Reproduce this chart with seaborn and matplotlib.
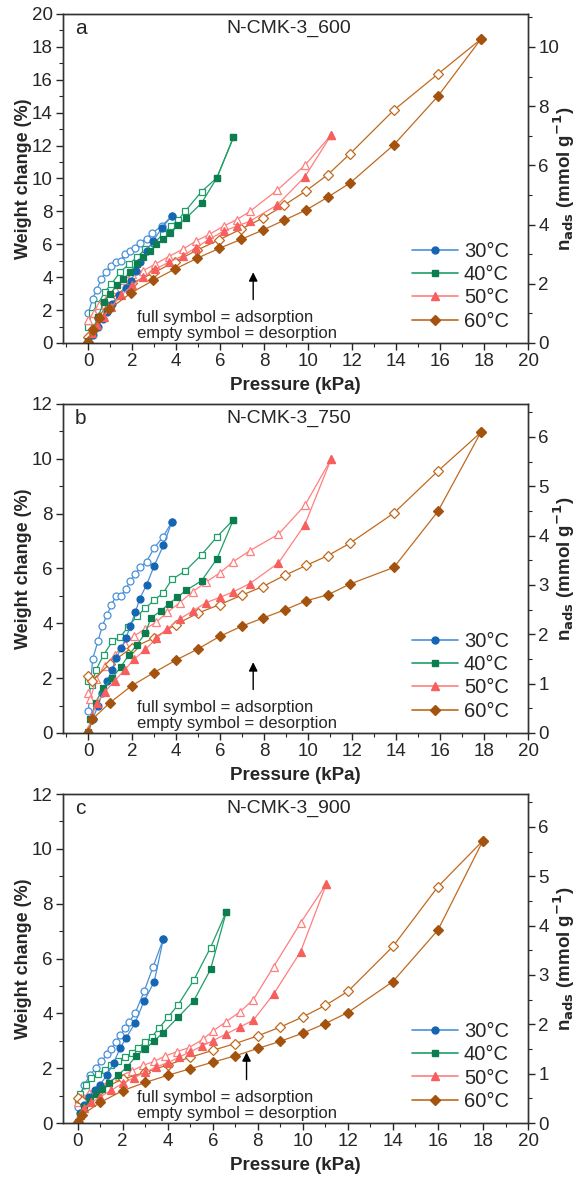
import matplotlib

matplotlib.use("Agg")
import matplotlib.pyplot as plt
import pandas as pd
import seaborn as sns
from matplotlib.ticker import MultipleLocator

# ---- data: (pressure kPa, weight change %) ----
# panel a, N-CMK-3_600
a30_ads_x = [0, 0.22, 0.44, 0.65, 0.87, 1.1, 1.4, 1.7, 1.93, 2.15, 2.35, 2.65, 2.95, 3.35, 3.8]
a30_ads_y = [0.05, 0.5, 1.0, 1.45, 1.9, 2.35, 2.9, 3.35, 3.75, 4.35, 4.95, 5.6, 6.2, 7.0, 7.72]
a30_des_x = [0, 0.2, 0.38, 0.59, 0.8, 1.05, 1.24, 1.47, 1.65, 1.89, 2.12, 2.35, 2.65, 2.92, 3.33, 3.8]
a30_des_y = [1.8, 2.7, 3.2, 3.9, 4.3, 4.7, 4.95, 5.0, 5.4, 5.6, 5.8, 6.1, 6.35, 6.7, 7.1, 7.72]
a40_ads_x = [0, 0.2, 0.45, 0.7, 1.0, 1.3, 1.6, 1.9, 2.2, 2.5, 2.8, 3.1, 3.4, 3.7, 4.1, 4.45, 5.15, 5.85, 6.6]
a40_ads_y = [0.1, 0.8, 1.6, 2.5, 3.0, 3.5, 3.9, 4.3, 4.8, 5.2, 5.6, 6.0, 6.3, 6.7, 7.2, 7.6, 8.5, 10.05, 12.5]
a40_des_x = [0, 0.15, 0.45, 0.75, 1.05, 1.45, 1.85, 2.2, 2.6, 3.0, 3.4, 3.75, 4.1, 4.4, 5.15, 5.85, 6.6]
a40_des_y = [1.0, 1.8, 2.4, 3.1, 3.6, 4.3, 4.8, 5.2, 5.7, 6.1, 6.6, 7.1, 7.5, 8.0, 9.2, 10.05, 12.5]
a50_ads_x = [0, 0.15, 0.4, 0.7, 1.05, 1.5, 2.0, 2.5, 3.05, 3.65, 4.3, 4.9, 5.5, 6.15, 6.75, 7.35, 8.6, 9.85, 11.05]
a50_ads_y = [0.2, 0.6, 1.1, 1.6, 2.2, 2.9, 3.5, 4.0, 4.5, 4.9, 5.3, 5.8, 6.3, 6.8, 7.1, 7.4, 8.4, 10.1, 12.65]
a50_des_x = [0, 0.25, 0.5, 0.8, 1.2, 1.6, 2.0, 2.5, 3.05, 3.65, 4.3, 4.9, 5.5, 6.15, 6.75, 7.35, 8.6, 9.85, 11.05]
a50_des_y = [1.4, 1.8, 2.3, 2.7, 3.3, 3.8, 4.2, 4.4, 4.8, 5.25, 5.7, 6.2, 6.6, 7.1, 7.5, 8.0, 9.3, 10.8, 12.65]
a60_ads_x = [0, 0.2, 0.5, 0.95, 1.95, 2.95, 3.95, 4.95, 5.95, 6.95, 7.95, 8.9, 9.9, 10.9, 11.9, 13.9, 15.9, 17.85]
a60_ads_y = [0.05, 0.8, 1.5, 2.05, 3.05, 3.8, 4.5, 5.15, 5.75, 6.3, 6.87, 7.46, 8.08, 8.87, 9.72, 12.05, 15.0, 18.46]
a60_des_x = [0, 0.2, 0.5, 1.0, 2.0, 2.95, 3.95, 4.95, 5.95, 6.95, 7.95, 8.9, 9.9, 10.9, 11.9, 13.9, 15.9, 17.85]
a60_des_y = [0.35, 0.85, 1.6, 2.65, 3.65, 4.25, 4.95, 5.65, 6.27, 6.93, 7.6, 8.37, 9.24, 10.24, 11.5, 14.16, 16.35, 18.46]

# panel b, N-CMK-3_750
b30_ads_x = [0, 0.2, 0.44, 0.64, 0.87, 1.07, 1.28, 1.5, 1.71, 1.91, 2.14, 2.34, 2.65, 3.0, 3.42, 3.8]
b30_ads_y = [0.05, 0.5, 1.0, 1.45, 1.9, 2.3, 2.75, 3.1, 3.45, 3.9, 4.4, 4.9, 5.4, 6.1, 6.85, 7.7]
b30_des_x = [0, 0.2, 0.44, 0.64, 0.84, 1.05, 1.25, 1.48, 1.71, 1.91, 2.14, 2.37, 2.65, 3.0, 3.4, 3.8]
b30_des_y = [0.8, 2.7, 3.35, 3.9, 4.3, 4.65, 5.0, 5.0, 5.25, 5.55, 5.8, 6.05, 6.25, 6.75, 7.15, 7.7]
b40_ads_x = [0, 0.1, 0.33, 0.68, 1.09, 1.47, 1.85, 2.2, 2.6, 2.85, 3.3, 3.65, 4.05, 4.45, 5.15, 5.85, 6.6]
b40_ads_y = [0.05, 0.5, 1.1, 1.65, 2.0, 2.4, 2.85, 3.2, 3.65, 4.2, 4.45, 4.7, 4.95, 5.2, 5.55, 6.35, 7.78]
b40_des_x = [0, 0.15, 0.35, 0.7, 1.1, 1.45, 1.8, 2.2, 2.6, 3.0, 3.4, 3.8, 4.4, 5.15, 5.85, 6.6]
b40_des_y = [1.9, 1.75, 2.3, 2.85, 3.35, 3.5, 3.85, 4.25, 4.55, 4.85, 5.1, 5.6, 5.9, 6.5, 7.15, 7.78]
b50_ads_x = [0, 0.15, 0.4, 0.75, 1.2, 1.65, 2.1, 2.6, 3.1, 3.6, 4.15, 4.75, 5.35, 6.0, 6.6, 7.35, 8.65, 9.85, 11.05]
b50_ads_y = [0.1, 0.6, 1.1, 1.5, 1.9, 2.3, 2.7, 3.05, 3.45, 3.8, 4.15, 4.45, 4.75, 4.95, 5.15, 5.45, 6.2, 7.6, 10.0]
b50_des_x = [0, 0.1, 0.35, 0.75, 1.2, 1.65, 2.1, 2.6, 3.1, 3.6, 4.15, 4.75, 5.35, 6.0, 6.6, 7.35, 8.65, 9.85, 11.05]
b50_des_y = [1.45, 1.25, 1.95, 2.45, 2.85, 3.25, 3.55, 3.8, 4.05, 4.4, 4.75, 5.15, 5.5, 5.85, 6.25, 6.65, 7.25, 8.3, 10.0]
b60_ads_x = [0, 0.18, 0.98, 1.97, 2.98, 3.97, 4.98, 5.97, 6.97, 7.94, 8.94, 9.91, 10.9, 11.9, 13.9, 15.9, 17.85]
b60_ads_y = [0.0, 0.5, 1.1, 1.72, 2.2, 2.65, 3.06, 3.52, 3.89, 4.19, 4.49, 4.82, 5.04, 5.43, 6.04, 8.08, 10.96]
b60_des_x = [0, 0.18, 0.98, 1.97, 2.98, 3.97, 4.98, 5.97, 6.97, 7.94, 8.94, 9.91, 10.9, 11.9, 13.9, 15.9, 17.85]
b60_des_y = [2.07, 1.9, 2.53, 3.1, 3.46, 3.95, 4.37, 4.68, 5.02, 5.34, 5.75, 6.11, 6.47, 6.92, 8.02, 9.55, 10.96]

# panel c, N-CMK-3_900
c30_ads_x = [0, 0.1, 0.3, 0.5, 0.75, 1.0, 1.3, 1.6, 1.9, 2.15, 2.55, 2.95, 3.4, 3.8]
c30_ads_y = [0.05, 0.35, 0.65, 0.95, 1.2, 1.4, 1.75, 2.2, 2.75, 3.1, 3.65, 4.45, 5.15, 6.7]
c30_des_x = [0, 0.1, 0.3, 0.55, 0.8, 1.05, 1.3, 1.5, 1.7, 1.9, 2.1, 2.3, 2.55, 2.95, 3.35, 3.8]
c30_des_y = [0.6, 1.0, 1.4, 1.75, 2.0, 2.25, 2.5, 2.7, 2.95, 3.2, 3.45, 3.7, 4.0, 4.8, 5.7, 6.7]
c40_ads_x = [0, 0.1, 0.3, 0.55, 0.8, 1.1, 1.4, 1.8, 2.2, 2.6, 3.0, 3.4, 3.8, 4.45, 5.15, 5.9, 6.6]
c40_ads_y = [0.05, 0.3, 0.6, 0.85, 1.05, 1.25, 1.45, 1.75, 2.05, 2.45, 2.7, 3.0, 3.3, 3.85, 4.45, 5.6, 7.7]
c40_des_x = [0, 0.1, 0.35, 0.6, 0.9, 1.2, 1.5, 1.8, 2.1, 2.4, 2.7, 3.0, 3.3, 3.6, 4.0, 4.45, 5.15, 5.9, 6.6]
c40_des_y = [0.85, 1.05, 1.4, 1.65, 1.8, 1.95, 2.1, 2.25, 2.4, 2.55, 2.75, 2.95, 3.15, 3.45, 3.85, 4.3, 5.2, 6.4, 7.7]
c50_ads_x = [0, 0.1, 0.3, 0.6, 1.0, 1.5, 2.0, 2.5, 3.0, 3.5, 4.0, 4.5, 5.0, 5.5, 6.0, 6.6, 7.2, 7.8, 8.7, 9.9, 11.05]
c50_ads_y = [0.05, 0.3, 0.55, 0.75, 0.95, 1.2, 1.45, 1.65, 1.85, 2.05, 2.2, 2.4, 2.6, 2.8, 3.0, 3.25, 3.5, 3.75, 4.7, 6.25, 8.73]
c50_des_x = [0, 0.15, 0.5, 0.9, 1.35, 1.85, 2.4, 2.9, 3.4, 3.9, 4.4, 4.95, 5.55, 6.0, 6.6, 7.2, 7.8, 8.7, 9.9, 11.05]
c50_des_y = [0.75, 0.9, 1.1, 1.3, 1.5, 1.7, 1.9, 2.1, 2.25, 2.45, 2.6, 2.75, 3.05, 3.35, 3.7, 4.05, 4.5, 5.7, 7.3, 8.73]
c60_ads_x = [0, 0.2, 1.0, 2.0, 3.0, 4.0, 5.0, 6.0, 7.0, 8.0, 9.0, 10.0, 11.0, 12.0, 14.0, 16.0, 18.0]
c60_ads_y = [0.02, 0.3, 0.75, 1.18, 1.48, 1.74, 1.98, 2.22, 2.45, 2.72, 2.98, 3.28, 3.63, 4.03, 5.16, 7.04, 10.3]
c60_des_x = [0, 0.2, 1.0, 2.0, 3.0, 4.0, 5.0, 6.0, 7.0, 8.0, 9.0, 10.0, 11.0, 12.0, 14.0, 16.0, 18.0]
c60_des_y = [0.9, 0.82, 1.22, 1.6, 1.85, 2.12, 2.4, 2.65, 2.9, 3.18, 3.5, 3.87, 4.29, 4.8, 6.44, 8.62, 10.3]

temps = ["30°C", "40°C", "50°C", "60°C"]
samples = ["N-CMK-3_600", "N-CMK-3_750", "N-CMK-3_900"]
panel_letters = ["a", "b", "c"]
left_ymax = [20, 12, 12]
right_step = [2, 1, 1]
x_start = [-1.15, -1.15, -0.65]
to_mmol = 1.8  # weight % per mmol/g (water)

panels = [
    [(a30_ads_x, a30_ads_y, a30_des_x, a30_des_y), (a40_ads_x, a40_ads_y, a40_des_x, a40_des_y),
     (a50_ads_x, a50_ads_y, a50_des_x, a50_des_y), (a60_ads_x, a60_ads_y, a60_des_x, a60_des_y)],
    [(b30_ads_x, b30_ads_y, b30_des_x, b30_des_y), (b40_ads_x, b40_ads_y, b40_des_x, b40_des_y),
     (b50_ads_x, b50_ads_y, b50_des_x, b50_des_y), (b60_ads_x, b60_ads_y, b60_des_x, b60_des_y)],
    [(c30_ads_x, c30_ads_y, c30_des_x, c30_des_y), (c40_ads_x, c40_ads_y, c40_des_x, c40_des_y),
     (c50_ads_x, c50_ads_y, c50_des_x, c50_des_y), (c60_ads_x, c60_ads_y, c60_des_x, c60_des_y)],
]

line_colors = ["#4a90d9", "#1f9e68", "#ff7f7f", "#c06a1e"]
fill_colors = ["#1565b5", "#0b7d4e", "#f75e5e", "#a4530f"]
markers = ["o", "s", "^", "D"]
marker_sizes = [5, 4.6, 5.4, 4.6]

sns.set_style("ticks")
plt.rcParams["font.family"] = ["Liberation Sans", "DejaVu Sans"]
plt.rcParams["axes.linewidth"] = 1.0

fig = plt.figure(figsize=(5.76, 11.86), dpi=100)
bottoms = [0.7108, 0.382, 0.0531]

for i in range(3):
    ax = fig.add_axes([0.1094, bottoms[i], 0.8073, 0.2774])
    handles = []
    for j in range(4):
        ad_x, ad_y, de_x, de_y = panels[i][j]
        df_a = pd.DataFrame({"p": ad_x, "w": ad_y})
        df_d = pd.DataFrame({"p": de_x, "w": de_y})
        sns.lineplot(data=df_d, x="p", y="w", sort=False, estimator=None, ax=ax,
                     color=line_colors[j], lw=0.9, marker=markers[j], ms=marker_sizes[j],
                     markerfacecolor="white", markeredgecolor=line_colors[j],
                     markeredgewidth=0.9, zorder=2)
        sns.lineplot(data=df_a, x="p", y="w", sort=False, estimator=None, ax=ax,
                     color=line_colors[j], lw=0.9, marker=markers[j], ms=marker_sizes[j],
                     markerfacecolor=fill_colors[j], markeredgecolor=fill_colors[j],
                     markeredgewidth=0.9, zorder=3)
        h, = ax.plot([], [], color=line_colors[j], lw=1.2, marker=markers[j], ms=marker_sizes[j],
                     markerfacecolor=fill_colors[j], markeredgecolor=fill_colors[j])
        handles.append(h)

    ax.set_xlim(x_start[i], 20)
    ax.set_ylim(0, left_ymax[i])
    ax.xaxis.set_major_locator(MultipleLocator(2))
    ax.xaxis.set_minor_locator(MultipleLocator(1))
    ax.yaxis.set_major_locator(MultipleLocator(2))
    ax.yaxis.set_minor_locator(MultipleLocator(1))
    ax.tick_params(which="major", direction="out", length=5, width=1, labelsize=13.5, pad=2.5)
    ax.tick_params(which="minor", direction="out", length=3, width=0.8)
    ax.set_xlabel("Pressure (kPa)", fontsize=13.5, fontweight="bold", labelpad=5)
    ax.set_ylabel("Weight change (%)", fontsize=13, fontweight="bold")
    ax.yaxis.set_label_coords(-0.066, 0.5)
    for s in ax.spines.values():
        s.set_visible(True)
        s.set_color("#333333")

    ax2 = ax.twinx()
    ax2.set_ylim(0, left_ymax[i] / to_mmol)
    ax2.yaxis.set_major_locator(MultipleLocator(right_step[i]))
    ax2.yaxis.set_minor_locator(MultipleLocator(right_step[i] / 2))
    ax2.tick_params(which="major", direction="out", length=5, width=1, labelsize=13.5, pad=2.5)
    ax2.tick_params(which="minor", direction="out", length=3, width=0.8)
    ax2.set_ylabel(r"n$_{\mathbf{ads}}$ (mmol g$^{\mathbf{-1}}$)", fontsize=13.5,
                   fontweight="bold")
    ax2.yaxis.set_label_coords(1.05, 0.5)
    for s in ax2.spines.values():
        s.set_color("#333333")

    ymax = left_ymax[i]
    ax.text(0.025, 0.955, panel_letters[i], transform=ax.transAxes, fontsize=15,
            va="center", ha="left")
    ax.text(0.486, 0.957, samples[i], transform=ax.transAxes, fontsize=14,
            va="center", ha="center")
    ax.annotate("", xy=(7.5, ymax * 0.215), xytext=(7.5, ymax * 0.132),
                arrowprops=dict(arrowstyle="-|>", color="black", lw=1.0,
                                mutation_scale=13, shrinkA=0, shrinkB=0))
    ax.text(0.159, 0.006, "full symbol = adsorption\nempty symbol = desorption",
            transform=ax.transAxes, fontsize=12, va="bottom", ha="left", linespacing=1.1)
    ax.legend(handles, temps, loc="lower right", frameon=False, fontsize=14.5,
              handlelength=2.3, handletextpad=0.3, labelspacing=0.22,
              borderaxespad=0.2, bbox_to_anchor=(0.985, 0.0))

fig.savefig("out.png", dpi=100)
